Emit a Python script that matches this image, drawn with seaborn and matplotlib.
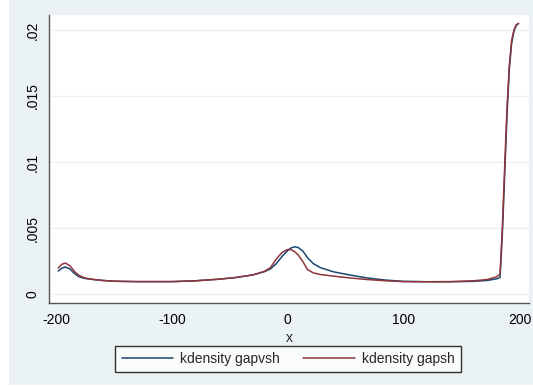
import pandas as pd
import numpy as np
import matplotlib
matplotlib.use('Agg')
import matplotlib.pyplot as plt
import seaborn as sns

# Valores (densidade por x)
x = [-198, -195, -192, -188, -184, -180, -175, -170, -160, -150, -130, -100, -80, -60,
     -45, -30, -20, -15, -10, -5, 0, 3, 6, 9, 13, 17, 22, 28, 39, 50, 68, 85, 100, 120,
     140, 160, 172, 180, 183, 185, 187, 189, 191, 193, 195, 197, 199]
gapvsh = [0.00174, 0.00195, 0.00205, 0.00190, 0.00155, 0.00130, 0.00118, 0.00112, 0.00103,
          0.00097, 0.00094, 0.00094, 0.00100, 0.00112, 0.00125, 0.00145, 0.00170, 0.00190,
          0.00230, 0.00285, 0.00330, 0.00350, 0.00358, 0.00352, 0.00325, 0.00275, 0.00230,
          0.00200, 0.00169, 0.00150, 0.00122, 0.00105, 0.00096, 0.00093, 0.00093, 0.00096,
          0.00103, 0.00115, 0.00125, 0.00450, 0.00900, 0.01350, 0.01700, 0.01900, 0.01990,
          0.02035, 0.02050]
gapsh = [0.00197, 0.00225, 0.00235, 0.00215, 0.00170, 0.00140, 0.00122, 0.00113, 0.00103,
         0.00097, 0.00094, 0.00094, 0.00100, 0.00112, 0.00125, 0.00145, 0.00172, 0.00200,
         0.00265, 0.00315, 0.00338, 0.00335, 0.00320, 0.00295, 0.00245, 0.00185, 0.00160,
         0.00148, 0.00136, 0.00125, 0.00110, 0.00100, 0.00094, 0.00093, 0.00094, 0.00100,
         0.00110, 0.00130, 0.00150, 0.00500, 0.00960, 0.01400, 0.01730, 0.01920, 0.02000,
         0.02040, 0.02050]

df = pd.DataFrame({
    'x': x * 2,
    'density': gapvsh + gapsh,
    'serie': ['kdensity gapvsh'] * len(x) + ['kdensity gapsh'] * len(x),
})

sns.set_style('white')
plt.rcParams['font.family'] = ['Liberation Sans', 'DejaVu Sans']
plt.rcParams['font.size'] = 10

fig = plt.figure(figsize=(5.33, 3.87), dpi=100)
fig.patch.set_facecolor('white')
# Fundo cinza-azulado estilo Stata (com margem branca à esquerda)
fig.patches.append(plt.Rectangle((9 / 533, 2 / 387), 1, 1, transform=fig.transFigure,
                                 facecolor='#EAF2F3', edgecolor='none', zorder=-10))

ax = fig.add_axes([49 / 533, 1 - 303 / 387, 480 / 533, 288 / 387])
ax.set_facecolor('white')

sns.lineplot(data=df, x='x', y='density', hue='serie',
             palette={'kdensity gapvsh': '#1a476f', 'kdensity gapsh': '#90353b'},
             linewidth=1.1, ax=ax, legend=False)

ax.set_xlim(-206, 208)
ax.set_ylim(-0.00068, 0.02114)
ax.set_xticks([-200, -100, 0, 100, 200])
ax.set_xticklabels(['-200', '-100', '0', '100', '200'])
ax.set_yticks([0, 0.005, 0.01, 0.015, 0.02])
ax.set_yticklabels(['0', '.005', '.01', '.015', '.02'], rotation=90, va='center')
ax.yaxis.grid(True, color='#EAF2F3', linewidth=1)
ax.set_xlabel('x', labelpad=3)
ax.set_ylabel('')
for s in ['top', 'right']:
    ax.spines[s].set_visible(False)
for s in ['left', 'bottom']:
    ax.spines[s].set_color('#555555')
    ax.spines[s].set_linewidth(1)
ax.tick_params(axis='both', direction='out', length=4, width=1, color='#555555', colors='black', pad=3)

handles = [plt.Line2D([], [], color='#1a476f', lw=1.1), plt.Line2D([], [], color='#90353b', lw=1.1)]
leg = fig.legend(handles, ['kdensity gapvsh', 'kdensity gapsh'], loc='center',
                 bbox_to_anchor=(288 / 533, 1 - 359 / 387), ncol=2, frameon=True,
                 fancybox=False, edgecolor='black', handlelength=3.7, handletextpad=0.5,
                 columnspacing=1.7, borderpad=0.45)
leg.get_frame().set_linewidth(1)
leg.get_frame().set_facecolor('white')

plt.savefig('out.png', dpi=100, facecolor=fig.get_facecolor())
plt.close()
